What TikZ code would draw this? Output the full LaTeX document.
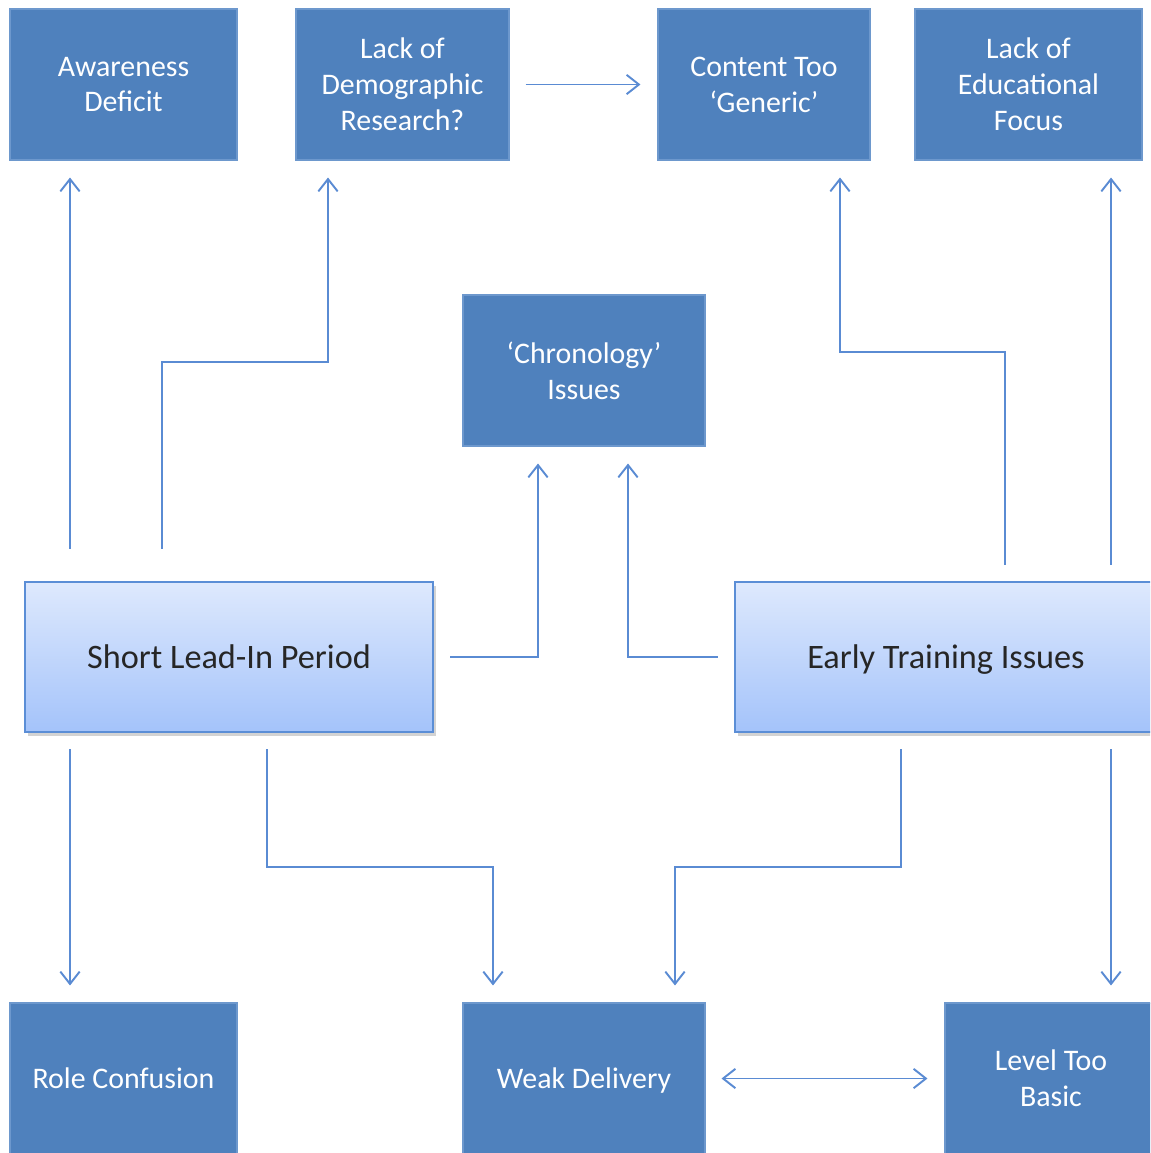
\documentclass[tikz,border=0pt]{standalone}
\usepackage{fontspec}
\setmainfont{Carlito}
\usetikzlibrary{arrows.meta, shadows}

\definecolor{boxBlue}{HTML}{4F81BD}
\definecolor{boxEdge}{HTML}{6D98CD}
\definecolor{gradTop}{HTML}{DEE9FD}
\definecolor{gradBottom}{HTML}{A4C3FA}
\definecolor{gradEdge}{HTML}{5B8ED6}
\definecolor{lineBlue}{HTML}{5A8BD3}

\begin{document}
\begin{tikzpicture}[
    effect/.style = {draw=boxEdge, line width=0.6pt, fill=boxBlue, text=white, align=center,
        minimum height=3.02cm, inner sep=0pt, font=\fontsize{17}{20.4}\selectfont},
    oneLine/.style = {text height=13pt, text depth=2pt},
    cause/.style = {draw=gradEdge, line width=1.2pt, top color=gradTop, bottom color=gradBottom,
        text=black!85, minimum height=3cm, inner sep=0pt, font=\fontsize{19.5}{23}\selectfont,
        text height=15pt, text depth=2pt,
        drop shadow={opacity=0.35, shadow xshift=1.5pt, shadow yshift=-2pt}},
    leadsTo/.style = {draw=lineBlue, line width=1.1pt, -{Straight Barb[length=7pt, width=11pt]},
        shorten <=0.32cm, shorten >=0.34cm},
    both/.style = {leadsTo, {Straight Barb[length=7pt, width=11pt]}-{Straight Barb[length=7pt, width=11pt]}}
]
\clip (0,0) rectangle (23,-23.06);

% effects along the top
\node(Aware)[effect, minimum width=4.54cm] at (2.47,-1.69) {Awareness\\Deficit};
\node(Demo)[effect, minimum width=4.26cm] at (8.05,-1.69) {Lack of\\Demographic\\Research?};
\node(Generic)[effect, minimum width=4.24cm] at (15.28,-1.69) {Content Too\\‘Generic’};
\node(Educ)[effect, minimum width=4.54cm] at (20.57,-1.69) {Lack of\\Educational\\Focus};

\node(Chrono)[effect, minimum width=4.84cm] at (11.68,-7.41) {‘Chronology’\\Issues};

% the two causes
\node(Short)[cause, minimum width=8.16cm] at (4.58,-13.14) {Short Lead-In Period};
\node(Early)[cause, minimum width=8.44cm] at (18.92,-13.14) {Early Training Issues};

% effects along the bottom
\node(Role)[effect, oneLine, minimum width=4.54cm] at (2.47,-21.57) {Role Confusion};
\node(Weak)[effect, oneLine, minimum width=4.84cm] at (11.68,-21.57) {Weak Delivery};
\node(Level)[effect, minimum width=4.24cm] at (21.02,-21.57) {Level Too\\Basic};

\draw[leadsTo, shorten <=0.64cm] (Short.north -| 1.4,0) -- (Aware.south -| 1.4,0);
\draw[leadsTo, shorten <=0.64cm] (Short.north -| 3.24,0) -- (3.24,-7.24) -| (Demo.south -| 6.56,0);
\draw[leadsTo] (Demo) -- (Generic);

\draw[leadsTo] (Short.east) -| (Chrono.south -| 10.76,0);
\draw[leadsTo] (Early.west) -| (Chrono.south -| 12.56,0);

\draw[leadsTo] (Early.north -| 20.1,0) -- (20.1,-7.04) -| (Generic.south -| 16.8,0);
\draw[leadsTo] (Early.north -| 22.22,0) -- (Educ.south -| 22.22,0);

\draw[leadsTo] (Short.south -| 1.4,0) -- (Role.north -| 1.4,0);
\draw[leadsTo] (Short.south -| 5.34,0) -- (5.34,-17.34) -| (Weak.north -| 9.86,0);
\draw[leadsTo] (Early.south -| 18.02,0) -- (18.02,-17.34) -| (Weak.north -| 13.5,0);
\draw[leadsTo] (Early.south -| 22.22,0) -- (Level.north -| 22.22,0);

\draw[both] (Weak) -- (Level);

\end{tikzpicture}
\end{document}
